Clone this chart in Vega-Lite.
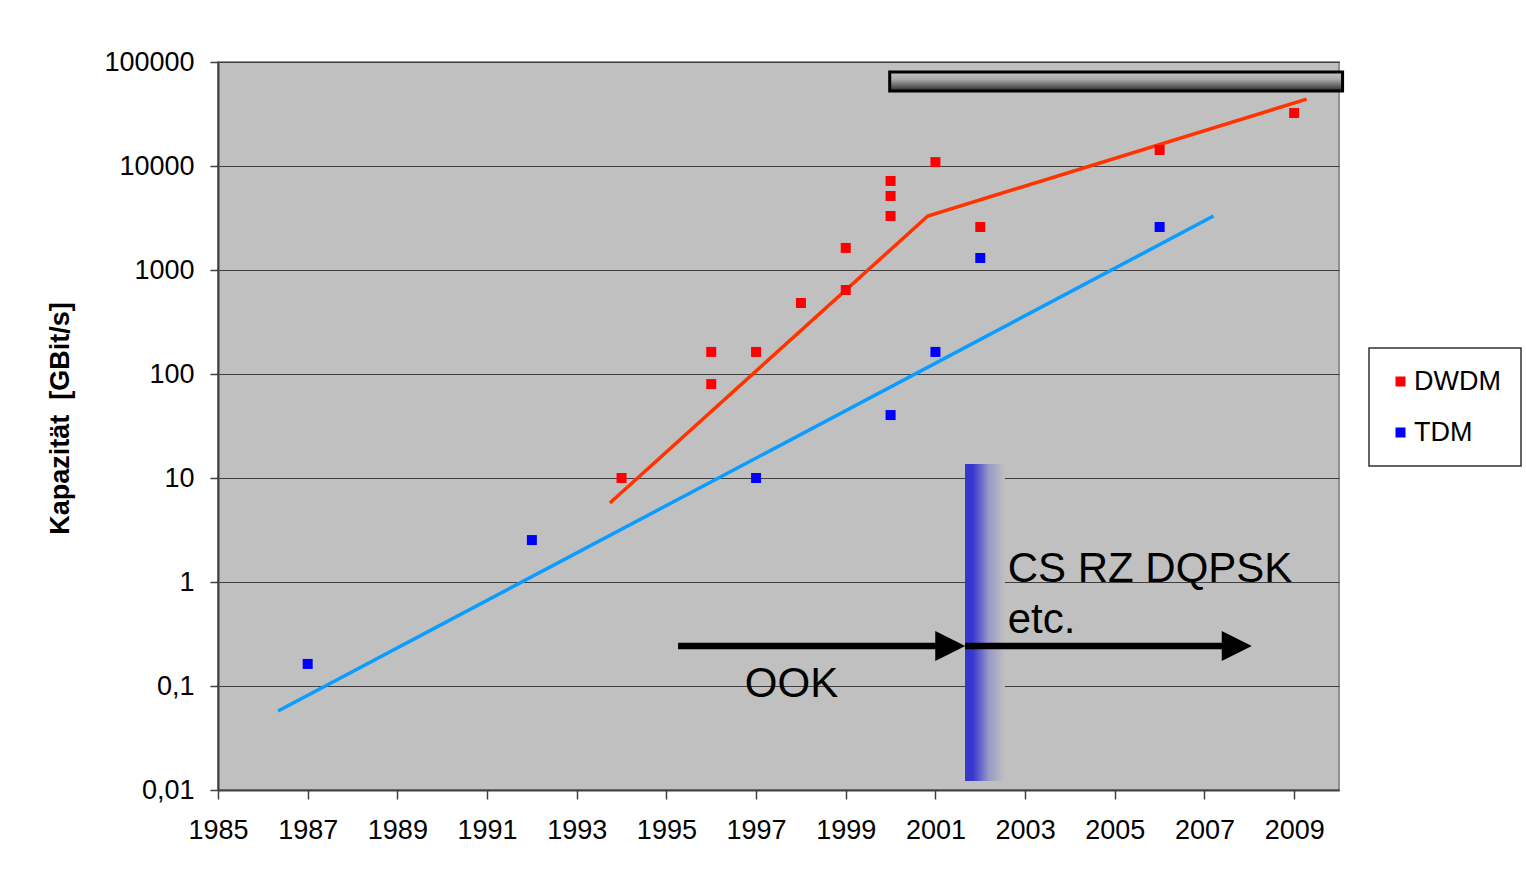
{
  "$schema": "https://vega.github.io/schema/vega-lite/v6.json",
  "autosize": {"type": "none"},
  "width": 1121,
  "height": 728,
  "padding": {"left": 218, "top": 62, "right": 187, "bottom": 88},
  "background": "white",
  "config": {
    "view": {"fill": "#c0c0c0", "stroke": "#909090", "strokeWidth": 2},
    "font": "Liberation Sans",
    "legend": {
      "orient": "none", "legendX": 1151, "legendY": 286,
      "fillColor": "white", "strokeColor": "#333333", "strokeWidth": 1.5,
      "padding": 20, "labelFontSize": 27, "labelFont": "Liberation Sans", "labelColor": "black",
      "symbolSize": 100, "symbolType": "square", "rowPadding": 23, "labelOffset": 0, "symbolStrokeWidth": 0,
      "symbolOffset": -2
    }
  },
  "datasets": {
    "points": [
      {"series": "DWDM", "year": 1994, "value": 10},
      {"series": "DWDM", "year": 1996, "value": 163},
      {"series": "DWDM", "year": 1996, "value": 80},
      {"series": "DWDM", "year": 1997, "value": 163},
      {"series": "DWDM", "year": 1998, "value": 482},
      {"series": "DWDM", "year": 1999, "value": 1630},
      {"series": "DWDM", "year": 1999, "value": 642},
      {"series": "DWDM", "year": 2000, "value": 7180},
      {"series": "DWDM", "year": 2000, "value": 5150},
      {"series": "DWDM", "year": 2000, "value": 3304},
      {"series": "DWDM", "year": 2001, "value": 10900},
      {"series": "DWDM", "year": 2002, "value": 2590},
      {"series": "DWDM", "year": 2006, "value": 14250},
      {"series": "DWDM", "year": 2009, "value": 32300},
      {"series": "TDM", "year": 1987, "value": 0.163},
      {"series": "TDM", "year": 1992, "value": 2.53},
      {"series": "TDM", "year": 1997, "value": 10},
      {"series": "TDM", "year": 2000, "value": 40.3},
      {"series": "TDM", "year": 2001, "value": 163},
      {"series": "TDM", "year": 2002, "value": 1304},
      {"series": "TDM", "year": 2006, "value": 2590}
    ],
    "trends": [
      {"series": "DWDM", "year": 1993.74, "value": 5.75},
      {"series": "DWDM", "year": 2000.83, "value": 3304},
      {"series": "DWDM", "year": 2009.28, "value": 44000},
      {"series": "TDM", "year": 1986.34, "value": 0.0575},
      {"series": "TDM", "year": 2007.2, "value": 3300}
    ],
    "arrows": [
      {"year": 1995.26, "year2": 2001.4, "value": 0.243},
      {"year": 2001.66, "year2": 2007.8, "value": 0.243}
    ],
    "heads": [
      {"year": 2001.33, "value": 0.243},
      {"year": 2007.72, "value": 0.243}
    ],
    "labels": [
      {"year": 1996.75, "value": 0.0784, "label": "OOK"},
      {"year": 2002.61, "value": 1.0, "label": "CS RZ DQPSK"},
      {"year": 2002.61, "value": 0.323, "label": "etc."}
    ],
    "band": [{"year": 2001.66, "year2": 2002.55, "value": 13.6, "value2": 0.0122}],
    "bar": [{"year": 1999.98, "year2": 2010.08, "value": 80170, "value2": 52600}]
  },
  "encoding": {
    "x": {
      "field": "year", "type": "quantitative",
      "scale": {"domain": [1985, 2010], "nice": false, "zero": false},
      "axis": {
        "title": null, "values": [1985, 1987, 1989, 1991, 1993, 1995, 1997, 1999, 2001, 2003, 2005, 2007, 2009],
        "format": "d", "grid": false, "tickSize": 9, "tickColor": "#404040", "tickWidth": 1.5,
        "domainColor": "#404040", "domainWidth": 2, "labelPadding": 18,
        "labelFlush": false, "labelOverlap": false, "labelBound": false,
        "labelFontSize": 27, "labelFont": "Liberation Sans", "labelColor": "black"
      }
    },
    "y": {
      "field": "value", "type": "quantitative",
      "scale": {"type": "log", "domain": [0.01, 100000], "nice": false},
      "axis": {
        "title": "Kapazität \u00a0[GBit/s]",
        "values": [0.01, 0.1, 1, 10, 100, 1000, 10000, 100000],
        "labelExpr": "replace(toString(datum.value), '.', ',')",
        "labelFlush": false, "labelOverlap": false,
        "grid": true, "gridColor": "#404040", "gridWidth": 1,
        "tickSize": 8, "tickColor": "#404040", "tickWidth": 1.5,
        "domainColor": "#404040", "domainWidth": 2, "labelPadding": 16,
        "labelFontSize": 27, "labelFont": "Liberation Sans", "labelColor": "black",
        "titleFont": "Liberation Sans", "titleFontSize": 27, "titleFontWeight": "bold", "titleColor": "black",
        "titleX": -158, "titleY": 356, "titleAlign": "center", "titleBaseline": "middle", "titleAngle": -90
      }
    }
  },
  "layer": [
    {
      "data": {"name": "bar"},
      "mark": {
        "type": "rect", "clip": false, "stroke": "black", "strokeWidth": 3,
        "color": {"gradient": "linear", "x1": 0, "y1": 0, "x2": 0, "y2": 1,
          "stops": [{"offset": 0, "color": "#c8c8c8"}, {"offset": 0.4, "color": "#a8a8a8"}, {"offset": 1, "color": "#2a2a2a"}]}
      },
      "encoding": {"x2": {"field": "year2"}, "y2": {"field": "value2"}}
    },
    {
      "data": {"name": "band"},
      "mark": {
        "type": "rect",
        "color": {"gradient": "linear", "x1": 0, "y1": 0, "x2": 1, "y2": 0,
          "stops": [{"offset": 0, "color": "#3434d0"}, {"offset": 0.2, "color": "#3838cc"}, {"offset": 0.6, "color": "#9a9ac8"}, {"offset": 1, "color": "#c0c0c0"}]}
      },
      "encoding": {"x2": {"field": "year2"}, "y2": {"field": "value2"}}
    },
    {
      "data": {"name": "trends"},
      "transform": [{"filter": "datum.series === 'DWDM'"}],
      "mark": {"type": "line", "color": "#ff3300", "strokeWidth": 3.5},
      "encoding": {"order": {"field": "year", "type": "quantitative"}}
    },
    {
      "data": {"name": "trends"},
      "transform": [{"filter": "datum.series === 'TDM'"}],
      "mark": {"type": "line", "color": "#0a9cff", "strokeWidth": 3.5},
      "encoding": {"order": {"field": "year", "type": "quantitative"}}
    },
    {
      "data": {"name": "points"},
      "mark": {"type": "point", "shape": "square", "filled": true, "size": 100, "opacity": 1},
      "encoding": {
        "color": {
          "field": "series", "type": "nominal",
          "scale": {"domain": ["DWDM", "TDM"], "range": ["#ff0000", "#0000ff"]},
          "legend": {"title": null}
        }
      }
    },
    {
      "data": {"name": "arrows"},
      "mark": {"type": "rule", "color": "black", "strokeWidth": 6.5, "strokeCap": "butt"},
      "encoding": {"x2": {"field": "year2"}}
    },
    {
      "data": {"name": "heads"},
      "mark": {"type": "point", "shape": "M-1,-1L1,0L-1,1Z", "size": 900, "filled": true, "color": "black", "opacity": 1, "strokeWidth": 0}
    },
    {
      "data": {"name": "labels"},
      "mark": {"type": "text", "font": "Liberation Sans", "fontSize": 42, "align": "left", "baseline": "alphabetic", "color": "black"},
      "encoding": {"text": {"field": "label"}}
    }
  ]
}
